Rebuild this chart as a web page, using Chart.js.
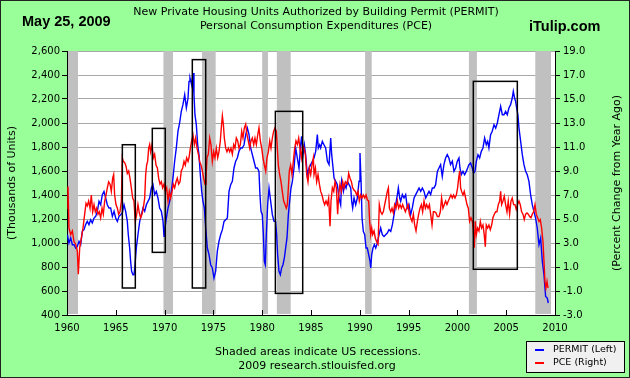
<!DOCTYPE html>
<html><head><meta charset="utf-8">
<script src="https://cdn.jsdelivr.net/npm/chart.js@4.4.1/dist/chart.umd.min.js"></script>
<style>html,body{margin:0;padding:0;background:#99ff99;}canvas{display:block;}</style>
</head><body>
<canvas id="c" width="630" height="378"></canvas>
<script>
// PERMIT (left axis, thousands of units)
const permitYears = [1960.03,1960.2,1960.38,1960.55,1960.72,1960.89,1961.06,1961.23,1961.4,1961.57,1961.74,1961.91,1962.08,1962.25,1962.42,1962.59,1962.77,1962.94,1963.11,1963.28,1963.45,1963.62,1963.79,1963.96,1964.13,1964.3,1964.47,1964.65,1964.82,1964.99,1965.16,1965.33,1965.5,1965.67,1965.84,1966.01,1966.18,1966.28,1966.42,1966.52,1966.62,1966.76,1966.87,1966.97,1967.1,1967.27,1967.45,1967.62,1967.79,1967.96,1968.13,1968.3,1968.47,1968.64,1968.81,1968.98,1969.15,1969.32,1969.49,1969.67,1969.84,1969.94,1970.04,1970.18,1970.35,1970.52,1970.69,1970.86,1971.03,1971.2,1971.37,1971.54,1971.71,1971.88,1972.06,1972.23,1972.4,1972.5,1972.6,1972.77,1972.91,1973.01,1973.11,1973.25,1973.39,1973.52,1973.66,1973.8,1973.93,1974.07,1974.21,1974.38,1974.55,1974.72,1974.89,1975.06,1975.23,1975.4,1975.57,1975.74,1975.92,1976.09,1976.26,1976.43,1976.6,1976.77,1976.94,1977.11,1977.28,1977.45,1977.62,1977.79,1977.96,1978.14,1978.31,1978.48,1978.65,1978.82,1978.99,1979.16,1979.33,1979.5,1979.67,1979.77,1979.88,1980.01,1980.12,1980.22,1980.32,1980.42,1980.56,1980.7,1980.87,1981.04,1981.21,1981.38,1981.48,1981.58,1981.72,1981.86,1981.99,1982.13,1982.27,1982.4,1982.54,1982.68,1982.81,1982.95,1983.09,1983.26,1983.43,1983.6,1983.77,1983.94,1984.04,1984.18,1984.32,1984.45,1984.62,1984.8,1984.97,1985.14,1985.31,1985.48,1985.65,1985.75,1985.89,1985.99,1986.16,1986.33,1986.5,1986.68,1986.85,1987.02,1987.12,1987.26,1987.36,1987.53,1987.7,1987.87,1988.04,1988.14,1988.32,1988.45,1988.59,1988.73,1988.9,1989.07,1989.17,1989.27,1989.41,1989.58,1989.75,1989.92,1990.02,1990.13,1990.23,1990.36,1990.5,1990.64,1990.77,1990.91,1991.05,1991.12,1991.22,1991.35,1991.49,1991.63,1991.8,1991.97,1992.14,1992.31,1992.48,1992.65,1992.82,1992.99,1993.17,1993.34,1993.51,1993.68,1993.85,1993.95,1994.09,1994.19,1994.36,1994.53,1994.7,1994.87,1995.04,1995.21,1995.38,1995.56,1995.73,1995.9,1996.07,1996.24,1996.41,1996.58,1996.75,1996.92,1997.09,1997.26,1997.43,1997.6,1997.77,1997.95,1998.11,1998.28,1998.45,1998.62,1998.79,1998.96,1999.13,1999.3,1999.48,1999.65,1999.82,1999.99,2000.16,2000.26,2000.4,2000.57,2000.74,2000.91,2001.05,2001.18,2001.35,2001.53,2001.66,2001.8,2001.94,2002.11,2002.28,2002.45,2002.62,2002.79,2002.96,2003.1,2003.23,2003.4,2003.57,2003.75,2003.92,2004.09,2004.26,2004.43,2004.6,2004.77,2004.94,2005.11,2005.28,2005.45,2005.62,2005.73,2005.86,2005.96,2006.07,2006.2,2006.31,2006.48,2006.65,2006.82,2006.99,2007.16,2007.33,2007.5,2007.67,2007.84,2008.01,2008.18,2008.36,2008.53,2008.7,2008.87,2009.04,2009.21,2009.31];
const permitValues = [1069,1000,1042,986,986,958,972,1014,986,1097,1111,1153,1180,1153,1194,1167,1208,1222,1264,1347,1319,1403,1430,1375,1319,1292,1292,1222,1264,1208,1180,1222,1236,1250,1319,1264,1180,1069,958,847,764,736,736,819,958,1069,1180,1236,1292,1264,1319,1347,1375,1458,1486,1403,1430,1375,1292,1264,1180,1055,1125,1208,1292,1347,1430,1542,1681,1792,1931,2000,2097,2153,2236,2125,2208,2347,2375,2319,2417,2236,2069,1986,1819,1736,1569,1430,1347,1292,1125,958,903,819,792,708,764,931,1014,1069,1111,1180,1194,1208,1430,1486,1514,1625,1681,1708,1764,1792,1792,1819,1903,1958,1903,1792,1736,1681,1625,1625,1597,1403,1264,1236,1069,847,819,1069,1319,1458,1347,1236,1180,1180,1069,903,764,736,792,819,875,958,1042,1236,1347,1458,1514,1625,1792,1708,1625,1819,1889,1736,1819,1736,1569,1625,1653,1681,1708,1764,1903,1792,1819,1792,1847,1819,1792,1681,1653,1875,1736,1625,1542,1514,1486,1375,1319,1514,1430,1486,1458,1514,1486,1458,1347,1292,1375,1319,1375,1514,1750,1514,1208,1097,1069,958,958,903,847,792,903,958,986,958,1000,1069,1125,1069,1055,1069,1083,1111,1097,1153,1236,1319,1403,1458,1375,1347,1403,1375,1403,1292,1319,1236,1292,1375,1403,1430,1458,1430,1458,1430,1375,1403,1430,1403,1458,1458,1486,1597,1625,1653,1555,1653,1708,1736,1708,1653,1681,1597,1625,1681,1708,1625,1569,1597,1569,1597,1625,1653,1667,1625,1583,1597,1681,1736,1708,1764,1792,1875,1819,1847,1792,1903,1931,1986,1958,2000,2069,2139,2069,2069,2097,2069,2125,2153,2208,2264,2208,2181,2125,2069,1958,1847,1736,1653,1597,1569,1514,1403,1319,1264,1208,1125,986,1042,847,736,555,541,500];

// PCE, percent change from year ago (right axis)
const pceYears = [1960.03,1960.1,1960.2,1960.38,1960.55,1960.72,1960.89,1961.06,1961.16,1961.3,1961.47,1961.64,1961.81,1961.95,1962.08,1962.22,1962.36,1962.49,1962.63,1962.77,1962.9,1963.04,1963.18,1963.31,1963.45,1963.59,1963.72,1963.86,1964.0,1964.13,1964.27,1964.41,1964.54,1964.68,1964.78,1964.88,1965.02,1965.16,1965.29,1965.43,1965.57,1965.67,1965.77,1965.91,1966.05,1966.18,1966.32,1966.45,1966.59,1966.73,1966.86,1967.0,1967.14,1967.27,1967.41,1967.55,1967.68,1967.82,1967.96,1968.06,1968.16,1968.26,1968.37,1968.47,1968.57,1968.71,1968.85,1968.98,1969.12,1969.26,1969.39,1969.53,1969.67,1969.8,1969.94,1970.07,1970.21,1970.35,1970.48,1970.62,1970.76,1970.89,1971.03,1971.17,1971.3,1971.44,1971.58,1971.71,1971.85,1971.99,1972.12,1972.26,1972.4,1972.5,1972.64,1972.77,1972.91,1973.05,1973.18,1973.32,1973.46,1973.59,1973.73,1973.87,1974.0,1974.14,1974.24,1974.34,1974.48,1974.62,1974.75,1974.89,1975.03,1975.16,1975.3,1975.44,1975.57,1975.71,1975.81,1975.92,1976.02,1976.12,1976.26,1976.39,1976.53,1976.67,1976.8,1976.94,1977.08,1977.21,1977.35,1977.49,1977.62,1977.76,1977.9,1978.03,1978.17,1978.31,1978.44,1978.58,1978.72,1978.85,1978.99,1979.13,1979.26,1979.4,1979.54,1979.67,1979.81,1979.95,1980.08,1980.22,1980.36,1980.49,1980.63,1980.77,1980.9,1981.04,1981.17,1981.31,1981.45,1981.55,1981.65,1981.79,1981.93,1982.06,1982.2,1982.34,1982.47,1982.58,1982.68,1982.78,1982.92,1983.05,1983.19,1983.33,1983.46,1983.6,1983.74,1983.87,1984.01,1984.15,1984.28,1984.42,1984.56,1984.69,1984.83,1984.97,1985.1,1985.24,1985.31,1985.45,1985.58,1985.72,1985.86,1985.99,1986.13,1986.27,1986.4,1986.54,1986.68,1986.81,1986.95,1987.05,1987.19,1987.33,1987.46,1987.6,1987.73,1987.84,1987.97,1988.11,1988.25,1988.38,1988.52,1988.73,1988.86,1989.0,1989.14,1989.27,1989.41,1989.55,1989.68,1989.82,1989.95,1990.09,1990.23,1990.36,1990.5,1990.64,1990.77,1990.91,1991.01,1991.12,1991.22,1991.32,1991.46,1991.59,1991.73,1991.87,1992.0,1992.14,1992.28,1992.41,1992.55,1992.69,1992.82,1992.93,1993.03,1993.17,1993.3,1993.44,1993.57,1993.71,1993.85,1993.98,1994.12,1994.26,1994.39,1994.53,1994.67,1994.8,1994.94,1995.08,1995.21,1995.35,1995.49,1995.62,1995.76,1995.9,1996.03,1996.17,1996.31,1996.44,1996.58,1996.72,1996.85,1996.99,1997.13,1997.26,1997.4,1997.54,1997.67,1997.81,1997.95,1998.11,1998.25,1998.38,1998.52,1998.66,1998.79,1998.93,1999.07,1999.2,1999.34,1999.48,1999.61,1999.75,1999.89,2000.02,2000.13,2000.23,2000.33,2000.43,2000.57,2000.7,2000.84,2000.98,2001.12,2001.25,2001.39,2001.53,2001.63,2001.73,2001.83,2001.94,2002.07,2002.21,2002.35,2002.48,2002.62,2002.75,2002.86,2002.96,2003.1,2003.23,2003.37,2003.51,2003.64,2003.78,2003.92,2004.05,2004.19,2004.33,2004.43,2004.53,2004.67,2004.8,2004.94,2005.08,2005.21,2005.35,2005.49,2005.62,2005.76,2005.9,2006.03,2006.17,2006.31,2006.44,2006.58,2006.72,2006.85,2006.99,2007.13,2007.26,2007.4,2007.54,2007.67,2007.81,2007.95,2008.08,2008.22,2008.36,2008.49,2008.63,2008.77,2008.87,2008.97,2009.07,2009.18,2009.28];
const pceValues = [5.9,7.7,4.25,3.7,4.0,3.1,2.9,2.3,0.4,2.6,3.4,4.25,5.4,6.3,6.1,6.5,5.9,7.0,5.6,6.2,5.6,5.9,5.4,5.6,5.1,5.9,5.4,6.5,7.0,7.6,8.1,7.9,7.3,8.4,8.7,7.0,6.2,5.9,5.4,5.6,6.5,10.1,9.8,9.7,9.4,8.8,9.0,8.4,7.6,6.75,6.5,4.8,5.4,6.2,5.5,5.1,5.4,5.9,6.75,8.7,9.5,9.8,10.9,11.2,10.6,11.2,10.1,10.4,9.5,9.25,8.4,7.9,8.1,7.6,7.9,7.3,7.6,6.5,7.3,6.75,7.3,7.9,7.6,8.1,8.4,7.9,8.1,9.0,9.25,9.8,9.5,10.1,9.8,10.1,10.9,11.5,12.0,11.2,11.75,10.9,10.4,9.8,9.5,9.0,8.4,7.9,8.4,10.1,10.4,11.75,11.2,9.8,10.6,10.1,10.9,10.1,10.6,11.5,12.6,13.6,12.9,11.75,10.9,10.6,10.9,10.6,10.9,10.4,11.2,10.9,11.75,11.5,10.9,11.2,12.3,11.75,12.6,12.9,12.0,11.5,10.9,11.5,11.75,11.2,11.75,11.2,12.0,12.6,11.5,10.9,10.1,9.5,9.0,10.1,10.6,11.5,10.9,11.75,12.3,12.6,12.3,10.9,9.5,8.7,8.1,7.3,6.5,6.2,5.9,6.2,7.6,9.0,9.5,8.7,9.8,10.9,11.5,11.2,11.75,10.9,10.1,11.2,10.9,10.4,8.7,8.1,9.25,8.7,9.5,10.1,8.7,9.25,8.1,8.7,7.9,7.3,7.0,6.5,6.2,6.5,6.2,6.75,4.4,6.5,7.6,7.3,8.1,7.6,5.4,7.0,7.9,7.3,8.1,7.6,8.1,7.9,8.8,8.4,8.1,7.6,7.4,7.3,7.0,7.3,6.5,7.0,6.75,7.0,6.75,7.0,6.6,6.5,4.8,3.7,4.25,3.7,4.0,3.4,3.1,2.9,6.2,5.6,5.4,5.6,6.2,6.75,7.3,7.6,5.9,5.6,5.9,5.5,6.2,5.9,6.5,5.9,6.2,5.9,6.2,5.9,5.6,5.9,6.2,5.4,5.1,4.8,5.4,4.5,4.0,4.8,5.4,5.9,6.2,5.6,6.5,5.9,6.2,5.9,6.2,5.4,4.5,5.6,5.6,5.5,5.2,5.2,5.6,6.75,5.9,6.2,6.5,6.2,6.5,6.75,7.0,6.75,7.0,6.75,7.0,7.6,8.4,9.0,7.6,7.3,7.0,7.3,6.75,6.2,5.9,4.8,5.1,4.8,4.1,2.6,4.8,3.7,4.25,4.0,4.8,4.25,4.5,3.7,2.7,4.5,4.25,4.5,4.1,4.5,5.1,5.4,5.6,5.6,6.2,6.5,7.3,6.2,6.5,6.9,6.2,5.6,6.5,5.4,6.5,6.75,6.2,6.2,5.8,6.2,6.5,6.2,5.6,5.4,4.95,5.4,5.5,5.4,5.2,5.1,5.4,5.6,6.2,5.4,5.1,4.8,4.95,4.25,3.1,1.5,-0.2,-0.75,-0.2,-0.75];

const xTickValues = [1960,1965,1970,1975,1980,1985,1990,1995,2000,2005,2010];
const leftTickValues = [400,600,800,1000,1200,1400,1600,1800,2000,2200,2400,2600];
const rightTickValues = [-3,-1,1,3,5,7,9,11,13,15,17,19];

// US recessions (shaded)
const recessionStarts = [1960.0,1969.88,1973.83,1980.0,1981.5,1990.54,2001.18,2007.98];
const recessionEnds   = [1961.13,1970.86,1975.23,1980.59,1982.92,1991.22,2002.0,2009.59];

// annotation boxes (years, left-axis values)
const boxStartYears = [1965.67,1968.74,1972.84,1981.35,2001.63];
const boxEndYears   = [1967.0,1970.07,1974.21,1984.15,2006.14];
const boxTopValues  = [1819,1955,2528,2097,2347];
const boxBottomValues = [625,922,625,580,781];

const toPoints = (xs, ys) => xs.map((x, i) => ({x: x, y: ys[i]}));

const FONT = '"DejaVu Sans", Verdana, sans-serif';

const decor = {
  id: 'decor',
  beforeDraw(chart) {
    const c = chart.ctx, a = chart.chartArea;
    c.save();
    c.fillStyle = '#99ff99';
    c.fillRect(0, 0, chart.width, chart.height);
    c.fillStyle = '#ffffff';
    c.fillRect(a.left, a.top, a.right - a.left, a.bottom - a.top);
    c.restore();
  },
  beforeDatasetsDraw(chart) {
    const c = chart.ctx, a = chart.chartArea, xs = chart.scales.x;
    c.save();
    c.beginPath();
    c.rect(a.left + 1, a.top, a.right - a.left - 2, a.bottom - a.top - 1);
    c.clip();
    c.fillStyle = '#c0c0c0';
    for (let i = 0; i < recessionStarts.length; i++) {
      const x1 = xs.getPixelForValue(recessionStarts[i]);
      const x2 = xs.getPixelForValue(recessionEnds[i]);
      c.fillRect(x1, a.top, x2 - x1, a.bottom - a.top);
    }
    c.restore();
  },
  afterDatasetsDraw(chart) {
    const c = chart.ctx, a = chart.chartArea, xs = chart.scales.x, ys = chart.scales.y;
    c.save();
    // inward x ticks
    c.strokeStyle = '#000';
    c.lineWidth = 1;
    c.beginPath();
    xTickValues.forEach(v => {
      const x = Math.round(xs.getPixelForValue(v)) + 0.5;
      c.moveTo(x, a.bottom);
      c.lineTo(x, a.bottom - 5);
    });
    c.stroke();
    // boxes
    c.lineWidth = 1.5;
    for (let i = 0; i < boxStartYears.length; i++) {
      const x1 = xs.getPixelForValue(boxStartYears[i]);
      const x2 = xs.getPixelForValue(boxEndYears[i]);
      const y1 = ys.getPixelForValue(boxTopValues[i]);
      const y2 = ys.getPixelForValue(boxBottomValues[i]);
      c.strokeRect(x1, y1, x2 - x1, y2 - y1);
    }
    c.restore();
  },
  afterDraw(chart) {
    const c = chart.ctx, a = chart.chartArea;
    const midY = (a.top + a.bottom) / 2;
    c.save();
    c.fillStyle = '#000';
    c.textBaseline = 'middle';
    c.textAlign = 'center';
    c.font = '11px ' + FONT;
    c.fillText('New Private Housing Units Authorized by Building Permit (PERMIT)', 316, 12);
    c.fillText('Personal Consumption Expenditures (PCE)', 316, 26);
    c.font = 'bold 14.5px "Liberation Sans", Arial, sans-serif';
    c.textAlign = 'left';
    c.fillText('May 25, 2009', 22, 22);
    c.fillText('iTulip.com', 529, 27);
    // axis titles
    c.font = '11px ' + FONT;
    c.textAlign = 'center';
    c.save();
    c.translate(12, midY);
    c.rotate(-Math.PI / 2);
    c.fillText('(Thousands of Units)', 0, 0);
    c.restore();
    c.save();
    c.translate(617, midY);
    c.rotate(-Math.PI / 2);
    c.fillText('(Percent Change from Year Ago)', 0, 0);
    c.restore();
    // notes
    c.fillText('Shaded areas indicate US recessions.', 318, 352);
    c.fillText('2009 research.stlouisfed.org', 317, 366);
    // legend
    c.fillStyle = '#f0f0f0';
    c.fillRect(526.5, 341.5, 98, 31);
    c.strokeStyle = '#000';
    c.lineWidth = 1;
    c.strokeRect(526.5, 341.5, 98, 31);
    c.lineWidth = 2;
    c.strokeStyle = '#0000ff';
    c.beginPath(); c.moveTo(535, 350); c.lineTo(544, 350); c.stroke();
    c.strokeStyle = '#ff0000';
    c.beginPath(); c.moveTo(535, 363); c.lineTo(544, 363); c.stroke();
    c.fillStyle = '#000';
    c.textAlign = 'left';
    c.font = '9.5px ' + FONT;
    c.fillText('PERMIT (Left)', 553, 350);
    c.fillText('PCE (Right)', 553, 363);
    // outer border
    c.strokeStyle = '#222';
    c.lineWidth = 1;
    c.strokeRect(0.5, 0.5, chart.width - 1, chart.height - 1);
    c.restore();
  }
};

new Chart(document.getElementById('c'), {
  type: 'line',
  data: {
    datasets: [
      { label: 'PERMIT (Left)', data: toPoints(permitYears, permitValues), yAxisID: 'y',
        borderColor: '#0000ff', borderWidth: 1.4, pointRadius: 0, tension: 0, fill: false, order: 2 },
      { label: 'PCE (Right)', data: toPoints(pceYears, pceValues), yAxisID: 'y2',
        borderColor: '#ff0000', borderWidth: 1.4, pointRadius: 0, tension: 0, fill: false, order: 1 }
    ]
  },
  options: {
    responsive: false,
    animation: false,
    devicePixelRatio: 1,
    layout: { padding: { top: 51, left: 0, right: 0, bottom: 0 } },
    plugins: { legend: { display: false }, tooltip: { enabled: false }, title: { display: false } },
    scales: {
      x: {
        type: 'linear', min: 1960, max: 2010,
        afterBuildTicks: s => { s.ticks = xTickValues.map(v => ({ value: v })); },
        afterFit: s => { s.height = 63; },
        ticks: { callback: v => String(v), color: '#000', font: { family: FONT, size: 10 }, padding: 7, maxRotation: 0, autoSkip: false },
        grid: { drawOnChartArea: false, drawTicks: false },
        border: { display: true, color: '#000', width: 1 }
      },
      y: {
        position: 'left', min: 400, max: 2600,
        afterBuildTicks: s => { s.ticks = leftTickValues.map(v => ({ value: v })); },
        afterFit: s => { s.width = 67; },
        ticks: { callback: v => v.toLocaleString('en-US'), color: '#000', font: { family: FONT, size: 10 }, padding: 2 },
        grid: { color: '#a8a8a8', tickColor: '#000', tickLength: 5, lineWidth: 1 },
        border: { display: true, color: '#000', width: 1 }
      },
      y2: {
        position: 'right', min: -3, max: 19,
        afterBuildTicks: s => { s.ticks = rightTickValues.map(v => ({ value: v })); },
        afterFit: s => { s.width = 75; },
        ticks: { callback: v => v.toFixed(1), color: '#000', font: { family: FONT, size: 10 }, padding: 3 },
        grid: { drawOnChartArea: false, tickColor: '#000', tickLength: 5 },
        border: { display: true, color: '#000', width: 1 }
      }
    }
  },
  plugins: [decor]
});
</script>
</body></html>
